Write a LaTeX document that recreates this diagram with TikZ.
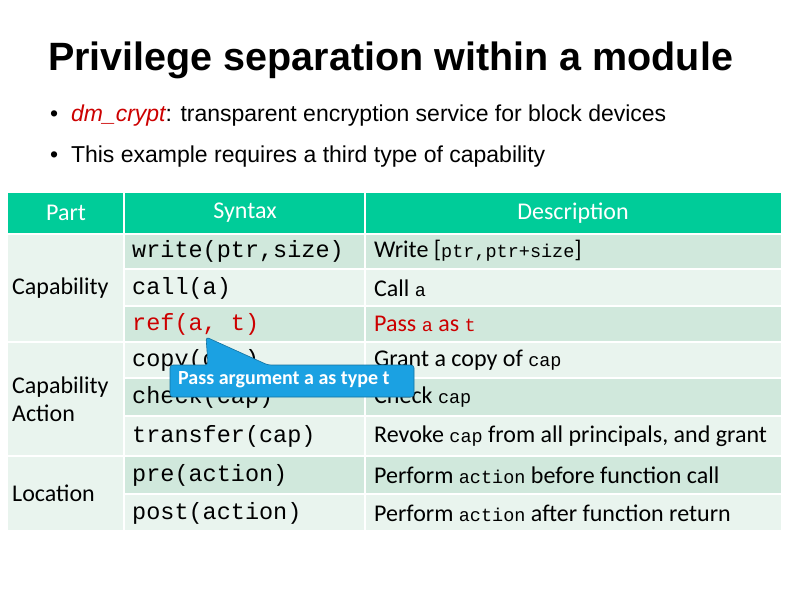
\documentclass[tikz,border=0pt]{standalone}
\usepackage{fontspec}
\setmainfont{Liberation Sans}
\newfontfamily\carl{Carlito}
\newfontfamily\monof{Liberation Mono}
\definecolor{hdr}{HTML}{00CC99}
\definecolor{dk}{HTML}{D0E8DC}
\definecolor{lt}{HTML}{E9F4EE}
\definecolor{red1}{HTML}{CC0000}
\definecolor{callb}{HTML}{1BA1E2}
\newcommand{\sm}{\monof\fontsize{18.5}{22}\selectfont}
\begin{document}
\begin{tikzpicture}[x=1pt,y=-1pt,
  code/.style={anchor=west,font=\monof\fontsize{23.5}{26}\selectfont,inner sep=0},
  desc/.style={anchor=west,font=\carl\fontsize{24}{28}\selectfont,inner sep=0},
  hd/.style={font=\carl\fontsize{24}{28}\selectfont,inner sep=0},
  bul/.style={anchor=west,font=\fontsize{23}{26}\selectfont,inner sep=0}]
\useasboundingbox (0,0) rectangle (794,595);
\node[anchor=west,inner sep=0,font=\bfseries\fontsize{39.5}{44}\selectfont] (title) at (48,60) {Privilege separation within a module};
\node[bul] (b1) at (50,116) {\textbullet\ \ \textcolor{red1}{\itshape dm\_crypt}: transparent encryption service for block devices};
\node[bul] (b2) at (50,157) {\textbullet\ \ This example requires a third type of capability};
% header
\fill[hdr] (8,193) rectangle (123,233);
\fill[hdr] (125,193) rectangle (364,233);
\fill[hdr] (366,193) rectangle (781,233);
\node[hd,text=white] (h1) at (66,213) {Part};
\node[hd,text=white] (h2) at (245,213) {Syntax};
\node[hd,text=white] (h3) at (573,213) {Description};
% left cells
\fill[lt] (8,235) rectangle (123,341);
\fill[lt] (8,343) rectangle (123,455);
\fill[lt] (8,457) rectangle (123,530);
\node[desc] (p1) at (12,288) {Capability};
\node[desc,align=left] (p2) at (12,399) {Capability\\Action};
\node[desc] (p3) at (12,493) {Location};
% rows
\foreach \a/\b/\c in {235/268/dk,270/305/lt,307/341/dk,343/377/lt,379/415/dk,417/455/lt,457/493/dk,495/530/lt}{
  \fill[\c] (125,\a) rectangle (364,\b);
  \fill[\c] (366,\a) rectangle (781,\b);
}
\node[code] (s1) at (132,251) {write(ptr,size)};
\node[desc] (d1) at (374,251) {Write [{\sm ptr,ptr+size}]};
\node[code] (s2) at (132,288) {call(a)};
\node[desc] (d2) at (374,288) {Call {\sm a}};
\node[code,text=red1] (s3) at (132,324) {ref(a, t)};
\node[desc,text=red1] (d3) at (374,324) {Pass {\sm a} as {\sm t}};
\node[code] (s4) at (132,360) {copy(cap)};
\node[desc] (d4) at (374,360) {Grant a copy of {\sm cap}};
\node[code] (s5) at (132,397) {check(cap)};
\node[desc] (d5) at (374,397) {Check {\sm cap}};
\node[code] (s6) at (132,436) {transfer(cap)};
\node[desc] (d6) at (374,436) {Revoke {\sm cap} from all principals, and grant};
\node[code] (s7) at (132,475) {pre(action)};
\node[desc] (d7) at (374,475) {Perform {\sm action} before function call};
\node[code] (s8) at (132,513) {post(action)};
\node[desc] (d8) at (374,513) {Perform {\sm action} after function return};
% callout
\coordinate (tip) at (206,337);
\filldraw[fill=callb,draw=callb!70!black,rounded corners=3pt,line width=0.6pt]
  (170,365) -- (208,365) -- (tip) -- (268,365) -- (414,365) -- (414,397) -- (170,397) -- cycle;
\node[anchor=west,font=\carl\bfseries\fontsize{20}{24}\selectfont,text=white,inner sep=0] (cl) at (178,380) {Pass argument a as type t};
\end{tikzpicture}
\end{document}
